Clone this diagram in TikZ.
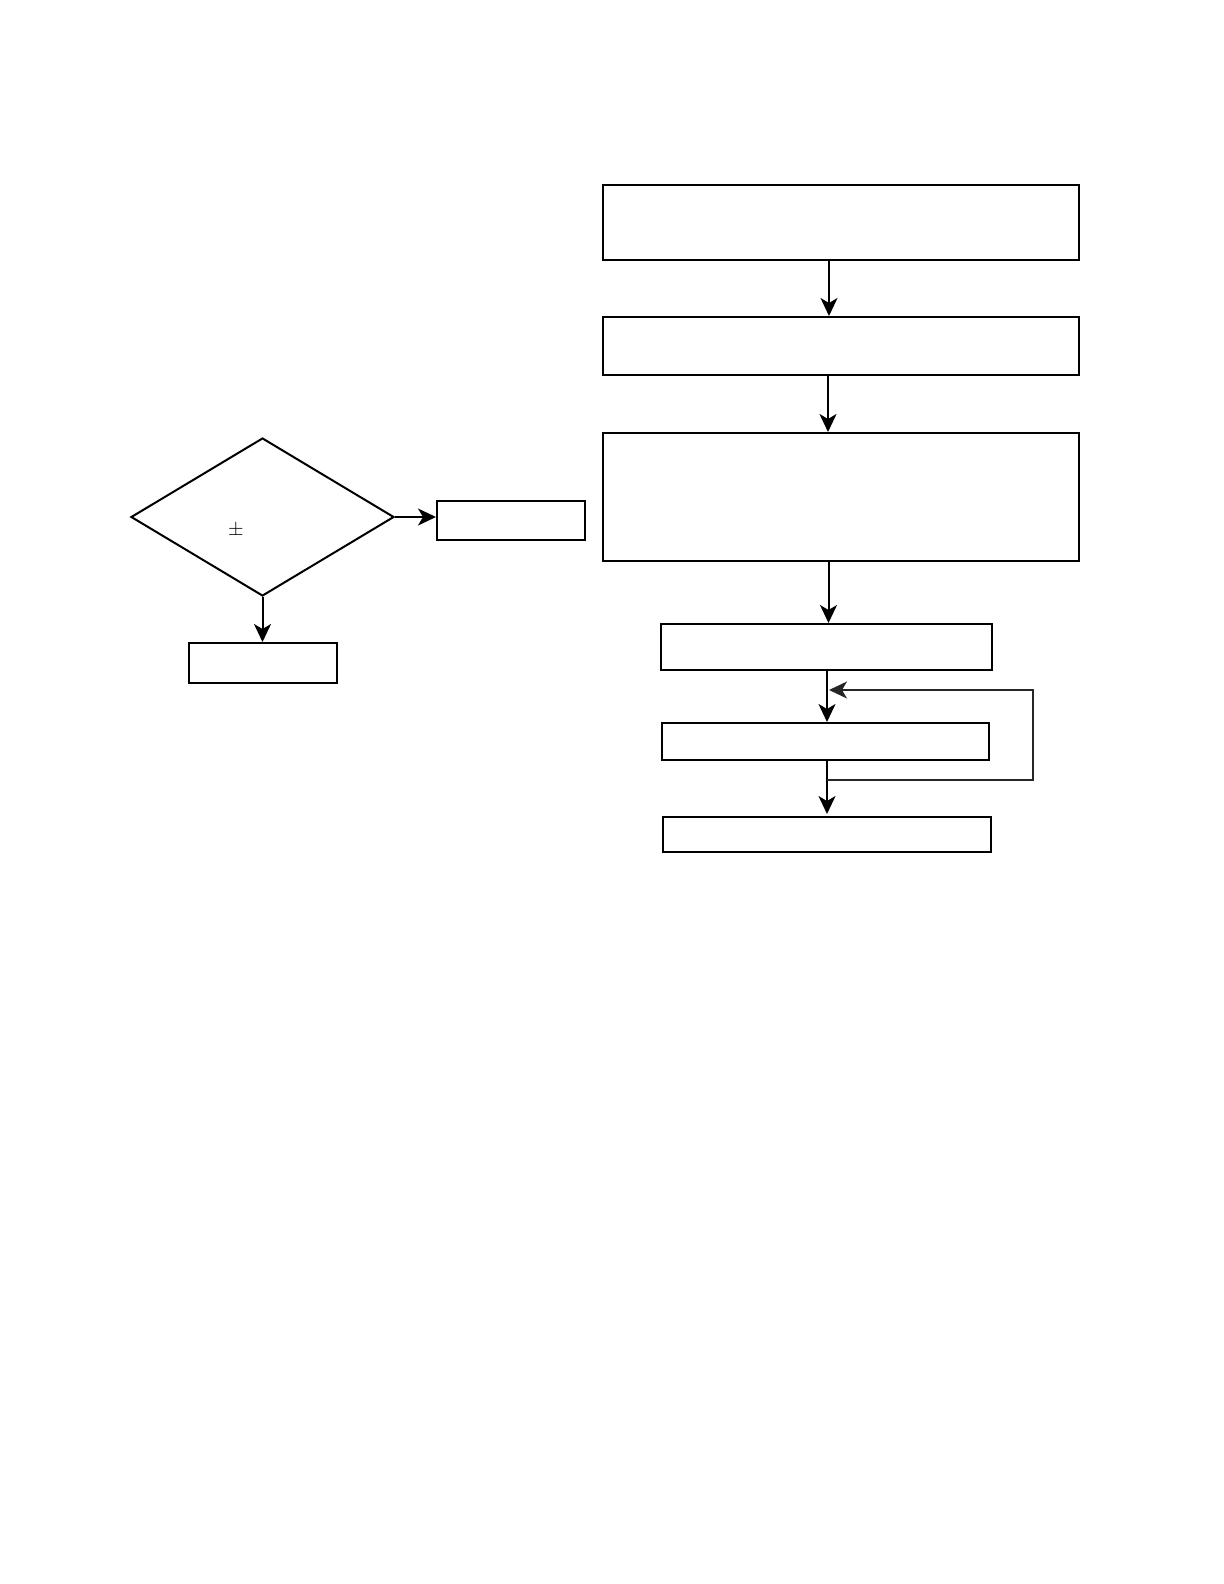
\documentclass[tikz,border=0pt]{standalone}
\usetikzlibrary{arrows.meta,shapes.geometric}
\tikzset{
  box/.style={draw, line width=1pt, rectangle, inner sep=0pt},
  decision/.style={draw, line width=1pt, diamond, inner sep=0pt, minimum width=131.5pt, minimum height=79pt},
  flow/.style={-{Stealth[length=9pt, width=8.5pt, inset=2.5pt]}, line width=1pt}
}
\begin{document}
\begin{tikzpicture}[x=0.5pt, y=-0.5pt]
            \useasboundingbox (0, 0) rectangle (1224, 1584);

            \node[box, minimum width=238pt, minimum height=37.5pt] (init) at (841, 222.5) {};
            \node[box, minimum width=238pt, minimum height=29pt] (read) at (841, 346) {};
            \node[box, minimum width=238pt, minimum height=64pt] (calc) at (841, 497) {};
            \node[box, minimum width=165.5pt, minimum height=23pt] (sort) at (826.5, 647) {};
            \node[box, minimum width=163.5pt, minimum height=18.5pt] (iter) at (825.5, 741.5) {};
            \node[box, minimum width=164pt, minimum height=17.5pt] (done) at (827, 834.5) {};

            \node[decision] (check) at (262.5, 517) {};
            \node at (236, 530) {$\pm$};
            \node[box, minimum width=74pt, minimum height=19.5pt] (yes) at (511, 520.5) {};
            \node[box, minimum width=74pt, minimum height=20pt] (no) at (262.5, 663) {};

            \draw[flow] (init.south -| 829, 0) -- (read.north -| 829, 0);
            \draw[flow] (read.south -| 828, 0) -- (calc.north -| 828, 0);
            \draw[flow] (calc.south -| 828.5, 0) -- (sort.north -| 828.5, 0);
            \draw[flow] (sort.south -| 827, 0) -- (iter.north -| 827, 0);
            \draw[flow] (iter.south -| 827, 0) -- ++(0, 53);

            \coordinate (back) at (1033, 780);
            \draw[flow, line width=0.8pt, black!85] (827, 780) -- (back) |- (829, 690);

            \draw[flow] (check.east) -- (check.east -| yes.west);
            \draw[flow] (check.south) -- (no.north -| check.south);
        \end{tikzpicture}
\end{document}
